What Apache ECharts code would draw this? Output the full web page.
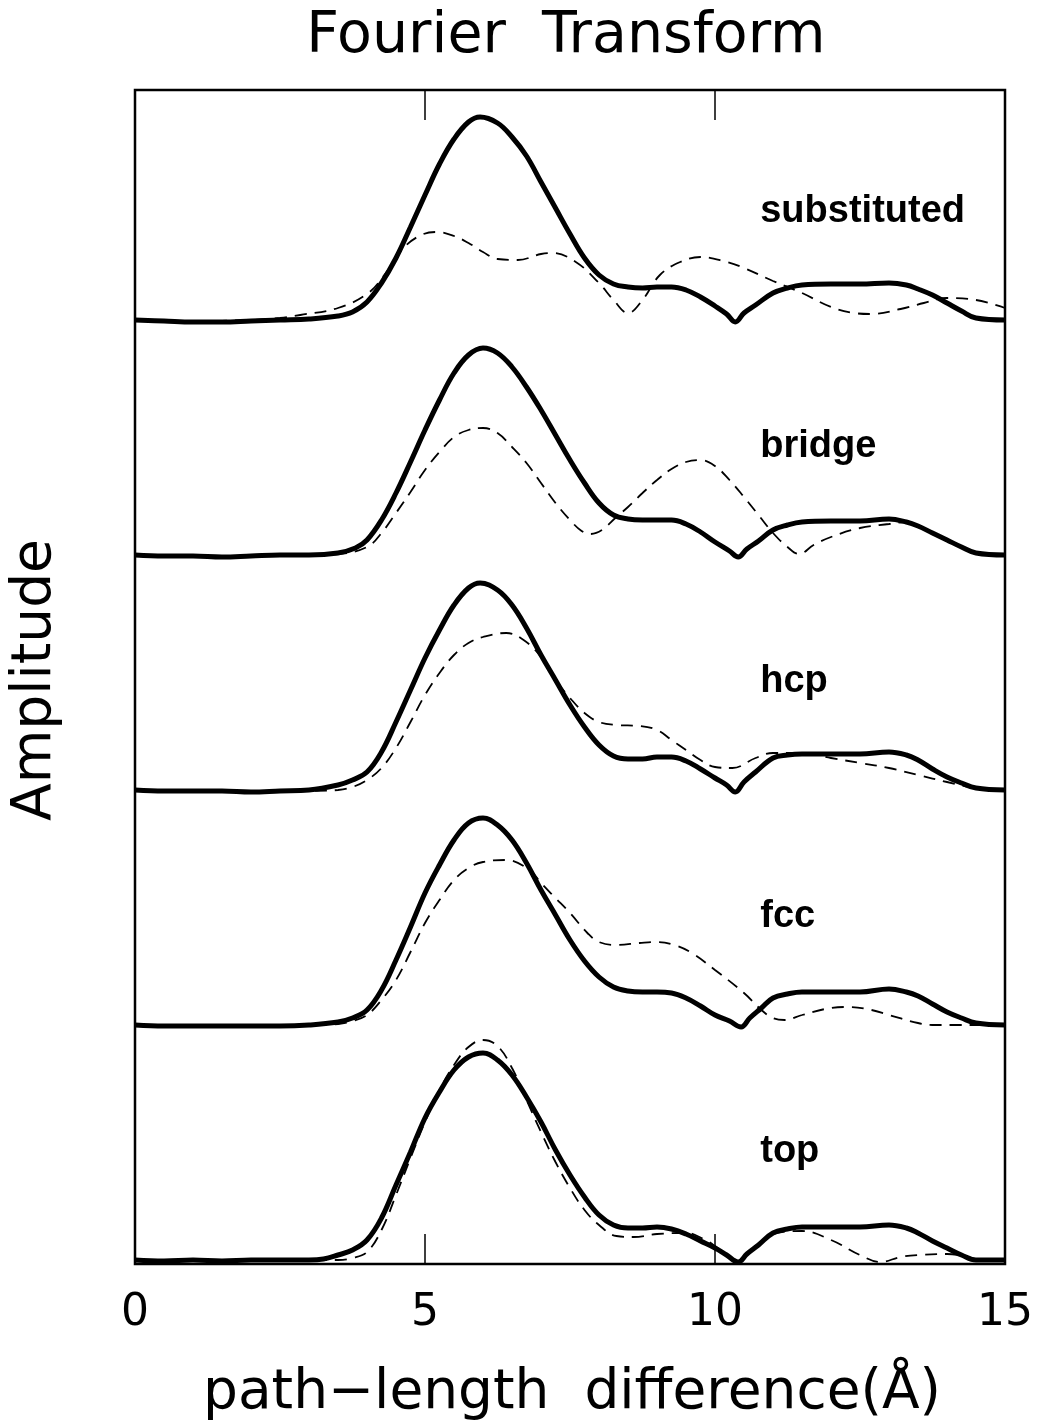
<!DOCTYPE html>
<html>
<head>
<meta charset="utf-8">
<script src="https://cdn.jsdelivr.net/npm/echarts@6/dist/echarts.min.js"></script>
<style>
  html, body { margin: 0; padding: 0; background: #ffffff; }
  #chart { width: 1045px; height: 1426px; }
</style>
</head>
<body>
<div id="chart"></div>
<script>
// Fourier-transform amplitude vs. path-length difference (Å), five adsorption sites.
// Each curve: [path-length difference, amplitude] pairs (amplitude in arbitrary units).

const siteNames = ['substituted', 'bridge', 'hcp', 'fcc', 'top'];
const xTicks = [0, 5, 10, 15];

// solid = experiment, dashed = calculation
const substitutedSolid = [[0,0],[0.5,-0.01],[1,-0.02],[1.5,-0.02],[2,-0.01],[2.5,0],[3,0.01],[3.5,0.04],[3.75,0.08],[4.0,0.18],[4.25,0.37],[4.5,0.62],[4.75,0.93],[5.0,1.25],[5.25,1.56],[5.5,1.81],[5.75,1.98],[5.95,2.03],[6.25,1.97],[6.5,1.83],[6.75,1.64],[7.0,1.38],[7.25,1.12],[7.5,0.86],[7.75,0.62],[8.0,0.45],[8.25,0.36],[8.5,0.33],[8.75,0.32],[9.0,0.33],[9.25,0.33],[9.5,0.3],[9.75,0.23],[10.0,0.14],[10.2,0.06],[10.35,-0.02],[10.5,0.07],[10.7,0.15],[11.0,0.27],[11.25,0.32],[11.5,0.35],[12.0,0.36],[12.5,0.36],[13.0,0.37],[13.3,0.35],[13.5,0.31],[13.75,0.25],[14.0,0.17],[14.25,0.09],[14.5,0.02],[15,0]];
const substitutedDashed = [[0,0],[1,-0.01],[2,0.0],[2.5,0.02],[2.85,0.05],[3.5,0.12],[4.0,0.26],[4.3,0.45],[4.6,0.7],[4.9,0.84],[5.2,0.88],[5.5,0.84],[5.75,0.77],[6.0,0.68],[6.25,0.61],[6.6,0.6],[7.0,0.66],[7.2,0.67],[7.6,0.58],[8.0,0.37],[8.25,0.2],[8.5,0.07],[8.75,0.2],[9.05,0.45],[9.4,0.58],[9.75,0.63],[10.2,0.58],[10.5,0.52],[11.0,0.39],[11.5,0.27],[12.0,0.13],[12.4,0.07],[12.7,0.06],[13.2,0.11],[13.6,0.17],[14.0,0.22],[14.5,0.2],[15,0.12]];

const bridgeSolid = [[0,0],[0.5,-0.01],[1,-0.01],[1.5,-0.02],[2,-0.01],[2.5,0],[3,0.0],[3.5,0.02],[3.8,0.07],[4.0,0.15],[4.25,0.35],[4.5,0.62],[4.75,0.93],[5.0,1.25],[5.25,1.55],[5.5,1.82],[5.75,2.0],[6.0,2.07],[6.25,2.02],[6.5,1.88],[6.75,1.68],[7.0,1.45],[7.25,1.2],[7.5,0.95],[7.75,0.72],[8.0,0.52],[8.25,0.4],[8.5,0.36],[8.75,0.35],[9.0,0.35],[9.25,0.35],[9.5,0.31],[9.75,0.23],[10.0,0.13],[10.25,0.04],[10.4,-0.02],[10.55,0.06],[10.75,0.14],[11.0,0.25],[11.25,0.3],[11.5,0.33],[12.0,0.34],[12.5,0.34],[13.0,0.36],[13.3,0.33],[13.5,0.29],[13.75,0.22],[14.0,0.15],[14.25,0.08],[14.5,0.02],[15,0]];
const bridgeDashed = [[0,0],[1,-0.01],[2,-0.01],[3,0],[3.5,0.01],[4.0,0.08],[4.25,0.22],[4.5,0.42],[4.75,0.63],[5.0,0.85],[5.25,1.03],[5.5,1.18],[5.75,1.25],[6.0,1.27],[6.25,1.22],[6.5,1.08],[6.75,0.92],[7.0,0.72],[7.25,0.52],[7.5,0.35],[7.7,0.24],[7.85,0.21],[8.05,0.25],[8.3,0.38],[8.5,0.48],[8.75,0.62],[9.0,0.75],[9.25,0.86],[9.5,0.93],[9.75,0.95],[10.0,0.89],[10.25,0.75],[10.5,0.58],[10.75,0.4],[11.0,0.22],[11.25,0.08],[11.45,0.01],[11.7,0.1],[12.0,0.18],[12.5,0.27],[13.0,0.31],[13.3,0.33],[13.5,0.29],[13.75,0.22],[14.0,0.15],[14.25,0.08],[14.5,0.02],[15,0]];

const hcpSolid = [[0,0],[0.5,-0.01],[1,-0.01],[1.5,-0.01],[2,-0.02],[2.5,-0.01],[3,0.0],[3.5,0.05],[3.75,0.1],[4.0,0.18],[4.25,0.38],[4.5,0.68],[4.75,1.0],[5.0,1.32],[5.25,1.6],[5.5,1.85],[5.75,2.02],[5.95,2.07],[6.25,2.0],[6.5,1.85],[6.75,1.62],[7.0,1.35],[7.25,1.1],[7.5,0.85],[7.75,0.63],[8.0,0.45],[8.25,0.34],[8.5,0.31],[8.75,0.31],[9.0,0.33],[9.25,0.33],[9.5,0.29],[9.75,0.21],[10.0,0.12],[10.2,0.05],[10.35,-0.02],[10.5,0.08],[10.7,0.18],[11.0,0.32],[11.25,0.35],[11.5,0.36],[12.0,0.36],[12.5,0.36],[13.0,0.38],[13.3,0.35],[13.5,0.3],[13.75,0.21],[14.0,0.13],[14.25,0.07],[14.5,0.02],[15,0]];
const hcpDashed = [[0,0],[1,-0.01],[2,-0.02],[3,-0.01],[3.5,0.0],[3.75,0.03],[4.0,0.1],[4.25,0.22],[4.5,0.42],[4.75,0.68],[5.0,0.95],[5.25,1.17],[5.5,1.35],[5.75,1.47],[6.0,1.53],[6.4,1.57],[6.7,1.5],[7.0,1.33],[7.25,1.1],[7.5,0.92],[7.75,0.77],[8.0,0.68],[8.3,0.65],[8.7,0.64],[9.0,0.6],[9.25,0.5],[9.5,0.4],[9.75,0.3],[10.0,0.23],[10.3,0.22],[10.7,0.32],[11.0,0.37],[11.5,0.37],[12.0,0.32],[12.5,0.27],[13.0,0.22],[13.5,0.15],[14.0,0.08],[14.5,0.02],[15,0]];

const fccSolid = [[0,0],[0.5,-0.01],[1,-0.01],[1.5,-0.01],[2,-0.01],[2.5,-0.01],[3,0.0],[3.5,0.03],[3.75,0.07],[4.0,0.15],[4.25,0.35],[4.5,0.65],[4.75,0.98],[5.0,1.32],[5.25,1.6],[5.5,1.85],[5.75,2.02],[6.0,2.07],[6.25,2.0],[6.5,1.85],[6.75,1.62],[7.0,1.35],[7.25,1.1],[7.5,0.85],[7.75,0.64],[8.0,0.48],[8.25,0.38],[8.5,0.34],[8.75,0.33],[9.0,0.33],[9.25,0.32],[9.5,0.27],[9.75,0.19],[10.0,0.1],[10.25,0.04],[10.45,-0.02],[10.6,0.07],[10.8,0.17],[11.0,0.27],[11.25,0.31],[11.5,0.33],[12.0,0.33],[12.5,0.33],[13.0,0.36],[13.3,0.33],[13.5,0.29],[13.75,0.21],[14.0,0.13],[14.25,0.07],[14.5,0.02],[15,0]];
const fccDashed = [[0,0],[1,-0.01],[2,-0.01],[3,0.0],[3.5,0.01],[3.75,0.04],[4.0,0.1],[4.25,0.25],[4.5,0.45],[4.75,0.73],[5.0,1.02],[5.25,1.25],[5.5,1.45],[5.75,1.57],[6.0,1.63],[6.4,1.65],[6.8,1.55],[7.0,1.42],[7.25,1.27],[7.5,1.12],[7.8,0.92],[8.0,0.83],[8.3,0.8],[8.7,0.82],[9.0,0.83],[9.3,0.8],[9.6,0.72],[10.0,0.55],[10.5,0.32],[10.8,0.15],[11.0,0.07],[11.2,0.05],[11.5,0.1],[12.0,0.17],[12.3,0.18],[12.7,0.15],[13.0,0.1],[13.5,0.02],[13.8,0.0],[14.2,0.0],[14.6,0.0],[15,0]];

const topSolid = [[0,0],[0.5,-0.01],[1,0.0],[1.5,-0.01],[2,0.0],[2.5,0.0],[3,0.0],[3.25,0.01],[3.5,0.05],[3.75,0.1],[4.0,0.2],[4.25,0.42],[4.5,0.75],[4.75,1.08],[5.0,1.42],[5.25,1.68],[5.5,1.9],[5.75,2.03],[6.0,2.07],[6.25,2.0],[6.5,1.85],[6.75,1.63],[7.0,1.38],[7.25,1.1],[7.5,0.85],[7.75,0.63],[8.0,0.45],[8.25,0.35],[8.5,0.32],[8.75,0.32],[9.0,0.33],[9.25,0.31],[9.5,0.26],[9.75,0.19],[10.0,0.12],[10.2,0.05],[10.4,-0.02],[10.55,0.06],[10.75,0.15],[11.0,0.27],[11.25,0.31],[11.5,0.33],[12.0,0.33],[12.5,0.33],[13.0,0.35],[13.3,0.32],[13.5,0.27],[13.75,0.19],[14.0,0.12],[14.25,0.05],[14.5,0.0],[15,0]];
const topDashed = [[0,0],[1,0],[2,0],[3,0],[3.5,0.0],[3.75,0.02],[4.0,0.08],[4.25,0.3],[4.5,0.65],[4.75,1.02],[5.0,1.38],[5.25,1.7],[5.5,1.95],[5.75,2.13],[6.0,2.2],[6.25,2.14],[6.5,1.92],[6.75,1.6],[7.0,1.28],[7.25,0.98],[7.5,0.72],[7.75,0.5],[8.0,0.35],[8.3,0.24],[8.6,0.23],[9.0,0.26],[9.5,0.27],[9.8,0.21],[10.0,0.14],[10.2,0.05],[10.4,-0.02],[10.55,0.06],[10.75,0.15],[11.0,0.26],[11.5,0.29],[12.0,0.2],[12.5,0.05],[12.85,-0.02],[13.2,0.03],[13.5,0.05],[14.0,0.06],[14.3,0.04],[14.6,0.0],[15,0]];

// stacking: vertical offset of each panel's baseline on the shared y scale
const yMax = 11.74;
const panelBase = { substituted: 9.44, bridge: 7.09, hcp: 4.74, fcc: 2.39, top: 0.04 };
const curves = {
  substituted: [substitutedSolid, substitutedDashed],
  bridge: [bridgeSolid, bridgeDashed],
  hcp: [hcpSolid, hcpDashed],
  fcc: [fccSolid, fccDashed],
  top: [topSolid, topDashed]
};
const labelX = 10.78, labelRise = 1.08;

const plainFont = '"DejaVu Sans", "Liberation Sans", sans-serif';
const boldFont = '"Liberation Sans", Arial, sans-serif';

const series = [];
siteNames.forEach(name => {
  const base = panelBase[name];
  const [solid, dashed] = curves[name];
  series.push({
    name: name + ' dashed', type: 'line', smooth: 0.4, showSymbol: false, z: 3,
    data: dashed.map(([x, a]) => [x, a + base]),
    lineStyle: { color: '#000', width: 1.8, type: [12, 8] }
  });
  series.push({
    name: name, type: 'line', smooth: 0.4, showSymbol: false, z: 4,
    data: solid.map(([x, a]) => [x, a + base]),
    lineStyle: { color: '#000', width: 5 }
  });
});

const chart = echarts.init(document.getElementById('chart'), null, { renderer: 'canvas' });

const axisCommon = {
  type: 'value', min: 0, max: 15, interval: 5,
  axisLine: { show: false },
  splitLine: { show: false },
  axisTick: { show: true, inside: true, length: 30, lineStyle: { color: '#000', width: 1.5 } }
};

chart.setOption({
  animation: false,
  backgroundColor: '#ffffff',
  grid: { left: 135, right: 40, top: 90, bottom: 162, show: true, borderColor: '#000', borderWidth: 2.5, backgroundColor: 'transparent' },
  xAxis: [
    Object.assign({}, axisCommon, {
      position: 'bottom',
      axisLabel: {
        show: true, margin: 28, color: '#000', fontSize: 44, fontFamily: plainFont,
        formatter: v => (xTicks.indexOf(v) >= 0 ? String(v) : '')
      }
    }),
    Object.assign({}, axisCommon, { position: 'top', axisLabel: { show: false } })
  ],
  yAxis: { type: 'value', min: 0, max: yMax, show: false },
  series: series
});

// text: title, axis names, panel labels
const graphics = [
  { type: 'text', x: 566, y: 37, style: { text: 'Fourier  Transform', fill: '#000', font: '57px ' + plainFont, textAlign: 'center', textVerticalAlign: 'middle', align: 'center', verticalAlign: 'middle' } },
  { type: 'text', x: 572, y: 1394, style: { text: 'path\u2212length  difference(\u00C5)', fill: '#000', font: '55px ' + plainFont, textAlign: 'center', textVerticalAlign: 'middle', align: 'center', verticalAlign: 'middle' } },
  { type: 'text', x: 36, y: 680, rotation: Math.PI / 2, style: { text: 'Amplitude', fill: '#000', font: '55px ' + plainFont, textAlign: 'center', textVerticalAlign: 'middle', align: 'center', verticalAlign: 'middle' } }
];
siteNames.forEach(name => {
  const p = chart.convertToPixel({ gridIndex: 0 }, [labelX, panelBase[name] + labelRise]);
  graphics.push({ type: 'text', x: p[0], y: p[1], style: { text: name, fill: '#000', font: 'bold 38px ' + boldFont, textAlign: 'left', textVerticalAlign: 'middle', align: 'left', verticalAlign: 'middle' } });
});
chart.setOption({ graphic: graphics });
</script>
</body>
</html>
